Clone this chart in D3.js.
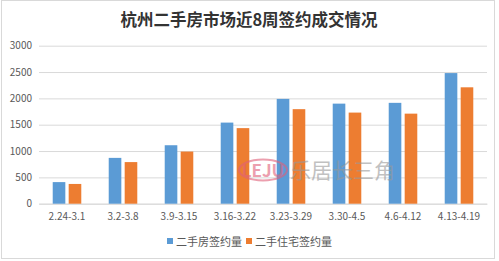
<!DOCTYPE html>
<html>
<head>
<meta charset="utf-8">
<script src="https://cdn.jsdelivr.net/npm/d3@7/dist/d3.min.js"></script>
<style>
  body { margin: 0; background: #fff; }
  text { font-family: "Microsoft YaHei", "Noto Sans CJK SC", sans-serif; }
</style>
</head>
<body>
<svg id="chart" width="499" height="261"></svg>
<script>
// weeks and weekly signed deals
var weeks = ['2.24-3.1', '3.2-3.8', '3.9-3.15', '3.16-3.22', '3.23-3.29', '3.30-4.5', '4.6-4.12', '4.13-4.19'];
var allDeals = [410, 870, 1110, 1540, 1990, 1900, 1915, 2480];    // 二手房签约量
var homeDeals = [375, 790, 990, 1435, 1795, 1730, 1710, 2210];    // 二手住宅签约量
var seriesNames = ['二手房签约量', '二手住宅签约量'];
var seriesColors = ['#5b9bd5', '#ed7d31'];
var yTicks = [0, 500, 1000, 1500, 2000, 2500, 3000];

var svg = d3.select('#chart'),
  width = +svg.attr('width'),
  height = +svg.attr('height');

// chart frame
svg.append('rect')
  .attr('x', 1.5).attr('y', 0.5)
  .attr('width', 493).attr('height', 258)
  .attr('fill', '#fff')
  .attr('stroke', '#d9d9d9');

svg.append('text')
  .attr('x', 249).attr('y', 26)
  .attr('text-anchor', 'middle')
  .attr('font-size', '16.5px')
  .attr('font-weight', 'bold')
  .attr('fill', '#333')
  .text('杭州二手房市场近8周签约成交情况');

var x0 = d3.scaleBand()
  .domain(weeks)
  .range([39, 487])
  .paddingInner(0.49)
  .paddingOuter(0.245);

var x1 = d3.scaleBand()
  .domain([0, 1])
  .range([0, x0.bandwidth()])
  .paddingInner(0.21);

var y = d3.scaleLinear()
  .domain([0, 3000])
  .range([203.7, 45.7]);

// gridlines + y labels
var yAxis = d3.axisLeft(y)
  .tickValues(yTicks)
  .tickSize(-(487 - 39))
  .tickPadding(7)
  .tickFormat(d3.format('d'));

svg.append('g')
  .attr('transform', 'translate(39,0)')
  .call(yAxis)
  .call(g => g.select('.domain').remove())
  .call(g => g.selectAll('line').attr('stroke', '#d9d9d9'))
  .call(g => g.selectAll('text')
    .attr('font-size', '10px')
    .attr('fill', '#595959'));

// x labels
var xAxis = d3.axisBottom(x0).tickSize(0).tickPadding(9);
svg.append('g')
  .attr('transform', 'translate(0,' + y(0) + ')')
  .call(xAxis)
  .call(g => g.select('.domain').attr('stroke', '#d9d9d9'))
  .call(g => g.selectAll('text')
    .attr('font-size', '10px')
    .attr('fill', '#595959'));

// bars
var rows = weeks.map((w, i) => ({ week: w, values: [allDeals[i], homeDeals[i]] }));

svg.append('g')
  .selectAll('g')
  .data(rows)
  .enter()
  .append('g')
  .attr('transform', d => 'translate(' + x0(d.week) + ',0)')
  .selectAll('rect')
  .data(d => d.values)
  .enter()
  .append('rect')
  .attr('x', (d, i) => x1(i))
  .attr('width', x1.bandwidth())
  .attr('y', d => y(d))
  .attr('height', d => y(0) - y(d))
  .attr('fill', (d, i) => seriesColors[i]);

// watermark, drawn over the bars
var wm = svg.append('g').attr('opacity', 0.6);
wm.append('ellipse')
  .attr('cx', 263).attr('cy', 170)
  .attr('rx', 24).attr('ry', 10.5)
  .attr('fill', 'none')
  .attr('stroke', '#e0607a')
  .attr('stroke-width', 2);
wm.append('text')
  .attr('x', 263).attr('y', 176.5)
  .attr('text-anchor', 'middle')
  .attr('font-size', '17px')
  .attr('font-weight', 'bold')
  .attr('fill', '#e0607a')
  .text('LEJU');
wm.append('text')
  .attr('x', 290).attr('y', 178)
  .attr('font-size', '21px')
  .attr('fill', '#999')
  .text('乐居长三角');

// legend
var legendX = [167, 246];
var legend = svg.append('g')
  .selectAll('g')
  .data(seriesNames)
  .enter()
  .append('g')
  .attr('transform', (d, i) => 'translate(' + legendX[i] + ',238)');

legend.append('rect')
  .attr('width', 6).attr('height', 6)
  .attr('fill', (d, i) => seriesColors[i]);

legend.append('text')
  .attr('x', 9).attr('y', 7.5)
  .attr('font-size', '11px')
  .attr('fill', '#595959')
  .text(d => d);
</script>
</body>
</html>
